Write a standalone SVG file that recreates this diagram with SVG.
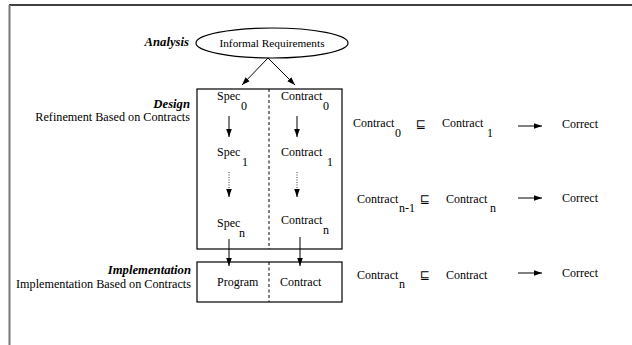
<svg xmlns="http://www.w3.org/2000/svg" width="632" height="345" viewBox="0 0 632 345">
<defs>
<style>
text{font-family:"Liberation Serif","Times New Roman","DejaVu Serif",serif;font-size:12px;fill:#000}
.lbl{font-weight:bold;font-style:italic;font-size:12.7px;text-anchor:end}
.desc{font-size:12.2px;text-anchor:end}
.ell{font-size:11.3px}
.box{fill:none;stroke:#000;stroke-width:1.2}
.div{stroke:#000;stroke-width:1;stroke-dasharray:3,2.5}
.con{stroke:#000;stroke-width:1;fill:none}
.dot{stroke:#000;stroke-width:0.8;stroke-dasharray:1,1.5;fill:none}
.sq{font-family:"DejaVu Sans",sans-serif;font-size:12px}
</style>
<marker id="ah" viewBox="0 0 10 10" refX="10" refY="5" markerWidth="8" markerHeight="8" markerUnits="userSpaceOnUse" orient="auto">
<path d="M0,1.5 L10,5 L0,8.5 Z" fill="#000"/>
</marker>
</defs>
<rect width="632" height="345" fill="#fff"/>
<g id="frame">
<line x1="9" y1="5" x2="632" y2="5" stroke="#000" stroke-width="1.5"/>
<line x1="9.5" y1="5" x2="9.5" y2="345" stroke="#777" stroke-width="2"/>
</g>
<g id="analysis">
<text class="lbl" x="189" y="46">Analysis</text>
<ellipse cx="272" cy="43" rx="76" ry="15" class="box"/>
<text class="ell" x="272" y="47" text-anchor="middle">Informal Requirements</text>
</g>
<g id="design">
<text class="lbl" x="190" y="108">Design</text>
<text class="desc" x="190" y="121">Refinement Based on Contracts</text>
<rect class="box" x="197" y="89" width="145" height="160"/>
<line class="div" x1="269" y1="89" x2="269" y2="249"/>
<text x="217" y="100">Spec</text><text x="241" y="110">0</text>
<text x="281" y="100">Contract</text><text x="323" y="110">0</text>
<text x="217" y="156">Spec</text><text x="242" y="166">1</text>
<text x="281" y="156">Contract</text><text x="327" y="166">1</text>
<text x="217" y="227">Spec</text><text x="239" y="237">n</text>
<text x="281" y="224">Contract</text><text x="323" y="234">n</text>
</g>
<g id="implementation">
<text class="lbl" x="191" y="274">Implementation</text>
<text class="desc" x="191" y="288">Implementation Based on Contracts</text>
<rect class="box" x="197" y="262" width="145" height="40"/>
<line class="div" x1="269" y1="262" x2="269" y2="302"/>
<text x="217" y="286">Program</text>
<text x="280" y="286">Contract</text>
</g>
<g id="refinements">
<text x="353" y="127">Contract</text><text x="395" y="137">0</text>
<text class="sq" x="416" y="128">⊑</text>
<text x="442" y="127">Contract</text><text x="487" y="137">1</text>
<text x="562" y="128">Correct</text>
<text x="357" y="203">Contract</text><text x="399" y="212">n-1</text>
<text class="sq" x="420" y="203">⊑</text>
<text x="446" y="203">Contract</text><text x="490" y="212">n</text>
<text x="562" y="202">Correct</text>
<text x="357" y="279">Contract</text><text x="399" y="288">n</text>
<text class="sq" x="420" y="279">⊑</text>
<text x="446" y="279">Contract</text>
<text x="562" y="277">Correct</text>
</g>
<g id="connectors">
<line class="con" x1="268" y1="58" x2="242" y2="85" marker-end="url(#ah)"/>
<line class="con" x1="268" y1="58" x2="295" y2="85" marker-end="url(#ah)"/>
<line class="con" x1="229" y1="116" x2="229" y2="137" marker-end="url(#ah)"/>
<line class="con" x1="297" y1="116" x2="297" y2="137" marker-end="url(#ah)"/>
<line class="dot" x1="229" y1="172" x2="229" y2="190"/>
<line class="con" x1="229" y1="189" x2="229" y2="197" marker-end="url(#ah)"/>
<line class="dot" x1="297" y1="172" x2="297" y2="190"/>
<line class="con" x1="297" y1="189" x2="297" y2="197" marker-end="url(#ah)"/>
<line class="con" x1="229" y1="239" x2="229" y2="266" marker-end="url(#ah)"/>
<line class="con" x1="300" y1="237" x2="300" y2="266" marker-end="url(#ah)"/>
<line class="con" x1="518" y1="126" x2="542" y2="126" marker-end="url(#ah)"/>
<line class="con" x1="518" y1="198" x2="542" y2="198" marker-end="url(#ah)"/>
<line class="con" x1="518" y1="273" x2="542" y2="273" marker-end="url(#ah)"/>
</g>
</svg>
